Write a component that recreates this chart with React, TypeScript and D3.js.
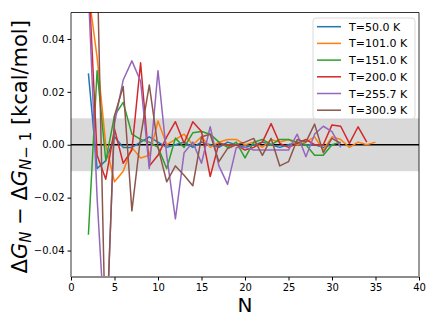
import React, { useEffect, useRef } from "react";
import * as d3 from "d3";

// temperatures (legend)
const temps = ["T=50.0 K", "T=101.0 K", "T=151.0 K", "T=200.0 K", "T=255.7 K", "T=300.9 K"];
const colors = ["#1f77b4", "#ff7f0e", "#2ca02c", "#d62728", "#9467bd", "#8c564b"];

// dG_N - dG_{N-1} for N = 2, 3, ...
const t50 = [0.027, -0.009, -0.006, 0.003, -0.001, -0.001, 0.001, 0.003, 0.001, -0.001, 0.0, 0.001, -0.001, 0.001, 0.0,
  -0.001, 0.001, 0.0, -0.001, 0.0, 0.001, 0.0, -0.001, 0.0, 0.001, 0.0, 0.0, -0.001, 0.0];
const t101 = [0.058, 0.033, 0.0, -0.014, -0.01, -0.001, -0.005, -0.004, 0.009, 0.0, 0.002, 0.004, 0.0, 0.003, -0.001,
  0.001, 0.002, 0.002, 0.0, 0.001, -0.001, 0.002, 0.001, 0.002, 0.0, 0.001, 0.003, -0.002, 0.003, 0.002, -0.001, 0.001, 0.0, 0.001];
const t151 = [-0.034, 0.028, -0.006, 0.011, 0.016, 0.004, 0.002, 0.001, -0.001, -0.009, 0.0025, -0.001, 0.0045, 0.005, 0.004,
  0.001, -0.001, 0.001, -0.005, 0.001, 0.002, 0.0, 0.002, 0.002, 0.001, 0.0, -0.004, -0.004, 0.0, 0.001];
const t200 = [0.065, -0.004, -0.013, 0.006, -0.007, -0.002, 0.031, -0.008, -0.004, 0.003, 0.0087, 0.0006, 0.0087, 0.005, -0.012,
  0.0005, 0.0, 0.0, -0.002, -0.001, 0.001, 0.008, 0.0005, -0.001, 0.0005, 0.002, 0.0, 0.0, 0.0075, 0.007, 0.0005, 0.0068, 0.001];
const t256 = [0.058, -0.02, -0.077, 0.008, 0.0245, 0.0317, 0.024, -0.009, 0.028, -0.004, -0.028, -0.003, 0.001, -0.007, 0.0068,
  -0.008, -0.015, -0.001, -0.001, -0.002, -0.002, -0.002, -0.002, -0.002, 0.004, -0.0045, 0.004, 0.007, 0.005, -0.001];
const t301 = [0.09, 0.07, -0.08, 0.011, 0.022, -0.025, 0.003, 0.0226, -0.001, -0.014, -0.008, -0.0115, -0.0155, 0.003, 0.004,
  -0.0064, -0.0014, 0.0, 0.001, 0.0024, -0.004, 0.0024, -0.008, -0.0064, 0.002, 0.001, 0.0078, -0.003, 0.0024, 0.0005];

const series = [t50, t101, t151, t200, t256, t301];

const xTicks = [0, 5, 10, 15, 20, 25, 30, 35, 40];
const yTicks = [-0.04, -0.02, 0.0, 0.02, 0.04];

function Chart() {
  const ref = useRef<SVGSVGElement>(null);

  useEffect(() => {
    const svg = d3.select(ref.current);
    svg.selectAll("*").remove();

    const left = 71, right = 419, top = 12.5, bottom = 277;
    const x = d3.scaleLinear().domain([0, 40]).range([left, right]);
    const y = d3.scaleLinear().domain([-0.05, 0.05]).range([bottom, top]);

    svg.append("defs").append("clipPath").attr("id", "plotclip")
      .append("rect").attr("x", left).attr("y", top).attr("width", right - left).attr("height", bottom - top);

    // shaded +-0.01 band
    svg.append("rect")
      .attr("x", left).attr("width", right - left)
      .attr("y", y(0.01)).attr("height", y(-0.01) - y(0.01))
      .attr("fill", "#d9d9d9");

    svg.append("line")
      .attr("x1", left).attr("x2", right)
      .attr("y1", y(0)).attr("y2", y(0))
      .attr("stroke", "black").attr("stroke-width", 1.5);

    const line = d3.line<number>().x((d, i) => x(i + 2)).y(d => y(d));
    const g = svg.append("g").attr("clip-path", "url(#plotclip)");
    series.forEach((s, k) => {
      g.append("path")
        .attr("d", line(s))
        .attr("fill", "none")
        .attr("stroke", colors[k])
        .attr("stroke-width", 1.5)
        .attr("stroke-linejoin", "round");
    });

    // spines
    svg.append("path")
      .attr("d", `M${left},${bottom}V${top}H${right}V${bottom}`)
      .attr("fill", "none").attr("stroke", "black").attr("stroke-width", 0.8);
    svg.append("line")
      .attr("x1", left).attr("x2", right).attr("y1", bottom).attr("y2", bottom)
      .attr("stroke", "#8c8c8c").attr("stroke-width", 2);

    // x axis
    const xa = svg.append("g").attr("transform", `translate(0,${bottom})`)
      .call(d3.axisBottom(x).tickValues(xTicks).tickFormat(d3.format("d")).tickSize(3.5).tickPadding(3));
    xa.select(".domain").remove();
    xa.selectAll("text").attr("font-size", 10).attr("font-family", "DejaVu Sans").attr("fill", "black");

    // y axis
    const ya = svg.append("g").attr("transform", `translate(${left},0)`)
      .call(d3.axisLeft(y).tickValues(yTicks).tickFormat(d => d3.format(".2f")(d as number).replace("-", "\u2212")).tickSize(3.5).tickPadding(3));
    ya.select(".domain").remove();
    ya.selectAll("text").attr("font-size", 10).attr("font-family", "DejaVu Sans").attr("fill", "black");

    // axis labels
    svg.append("text")
      .attr("x", (left + right) / 2).attr("y", 312)
      .attr("text-anchor", "middle")
      .attr("font-family", "DejaVu Sans").attr("font-size", 20)
      .text("N");

    const yl = svg.append("text")
      .attr("transform", `translate(27,${(top + bottom) / 2 + 2}) rotate(-90)`)
      .attr("text-anchor", "middle")
      .attr("font-family", "DejaVu Sans").attr("font-size", 21);
    yl.append("tspan").text("\u0394");
    yl.append("tspan").attr("font-style", "italic").text("G");
    yl.append("tspan").attr("font-style", "italic").attr("font-size", 15).attr("dy", 4).text("N");
    yl.append("tspan").attr("dy", -4).text(" \u2212 \u0394");
    yl.append("tspan").attr("font-style", "italic").text("G");
    yl.append("tspan").attr("font-size", 15).attr("dy", 4).html("<tspan font-style='italic'>N</tspan>\u2212 1");
    yl.append("tspan").attr("dy", -4).text(" [kcal/mol]");

    // legend
    const lg = svg.append("g");
    lg.append("rect")
      .attr("x", 313).attr("y", 18).attr("width", 102).attr("height", 101).attr("rx", 3)
      .attr("fill", "white").attr("fill-opacity", 0.8)
      .attr("stroke", "#d0d0d0").attr("stroke-width", 0.8);
    temps.forEach((t, k) => {
      const yy = 26.7 + k * 16.7;
      lg.append("line").attr("x1", 317).attr("x2", 341).attr("y1", yy).attr("y2", yy)
        .attr("stroke", colors[k]).attr("stroke-width", 1.5);
      lg.append("text").attr("x", 349).attr("y", yy + 4)
        .attr("font-family", "DejaVu Sans").attr("font-size", 11)
        .text(t);
    });
  }, []);

  return <svg ref={ref} width={436} height={327} style={{ position: "absolute", left: 0, top: 0, background: "white" }} />;
}

export default function App() {
  return <Chart />;
}
